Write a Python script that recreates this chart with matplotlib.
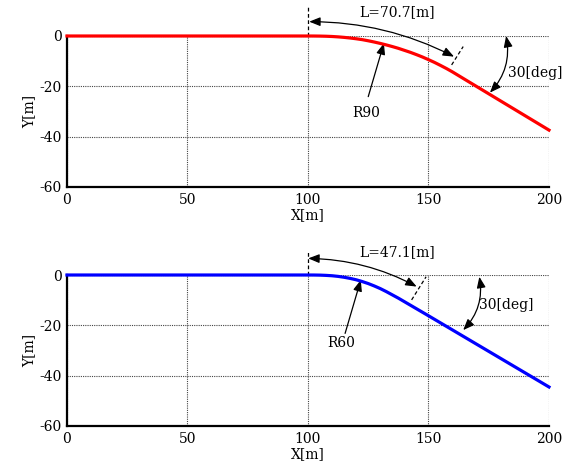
import matplotlib
matplotlib.use("Agg")
import matplotlib.pyplot as plt

plt.rcParams['font.family'] = ['DejaVu Serif']
plt.rcParams['axes.unicode_minus'] = False

# Data
x_r90 = [0, 100, 102.5, 105, 107.5, 110, 112.5, 115, 117.5, 120, 122.5, 125, 127.5,
         130, 132.5, 135, 137.5, 140, 142.5, 145, 147.5, 150, 152.5, 155, 157.5,
         160, 162.5, 165, 200]
y_r90 = [0, 0, -0.01, -0.04, -0.1, -0.2, -0.35, -0.55, -0.8, -1.1, -1.45, -1.9, -2.4,
         -2.95, -3.55, -4.2, -4.9, -5.7, -6.5, -7.4, -8.35, -9.4, -10.5, -11.7, -12.95,
         -14.3, -15.75, -17.2, -37.4]

x_r60 = [0, 100, 102.5, 105, 107.5, 110, 112.5, 115, 117.5, 120, 122.5, 125, 127.5,
         130, 132.5, 135, 137.5, 140, 142.5, 145, 147.5, 150, 200]
y_r60 = [0, 0, -0.01, -0.05, -0.15, -0.3, -0.55, -0.9, -1.35, -1.9, -2.6, -3.4, -4.35,
         -5.4, -6.6, -7.9, -9.2, -10.6, -12.0, -13.4, -14.8, -16.2, -44.5]

x_ticks = [0, 50, 100, 150, 200]
y_ticks = [-60, -40, -20, 0]
length_labels = ["L=70.7[m]", "L=47.1[m]"]
radius_labels = ["R90", "R60"]
angle_label = "30[deg]"

fig = plt.figure(figsize=(5.81, 4.73), dpi=100)
ax1 = fig.add_axes([0.1153, 0.6047, 0.8296, 0.3192])
ax2 = fig.add_axes([0.1153, 0.0994, 0.8296, 0.3192])

FS = 10

def style(ax):
    ax.set_xlim(0, 200)
    ax.set_ylim(-60, 0)
    ax.set_xticks(x_ticks)
    ax.set_yticks(y_ticks)
    ax.grid(True, linestyle=(0, (1, 1)), color='#444444', linewidth=0.8)
    for s in ['top', 'right']:
        ax.spines[s].set_visible(False)
    for s in ['left', 'bottom']:
        ax.spines[s].set_linewidth(1.6)
    ax.tick_params(length=0, labelsize=FS, pad=4)
    ax.set_xlabel("X[m]", fontsize=FS, labelpad=1)
    ax.set_ylabel("Y[m]", fontsize=FS, labelpad=2)

style(ax1)
style(ax2)

ax1.plot(x_r90, y_r90, color='red', linewidth=2.3, clip_on=False, zorder=5)
ax2.plot(x_r60, y_r60, color='blue', linewidth=2.3, clip_on=False, zorder=5)

dbl = dict(arrowstyle='<|-|>,head_length=0.55,head_width=0.22', color='black',
           linewidth=0.9, mutation_scale=12, shrinkA=0, shrinkB=0)
sgl = dict(arrowstyle='-|>,head_length=0.55,head_width=0.22', color='black',
           linewidth=0.9, mutation_scale=12, shrinkA=0, shrinkB=0)

# top annotations
ax1.plot([100, 100], [0, 11.6], color='black', linestyle=(0, (3, 2)), linewidth=0.9, clip_on=False)
ax1.plot([159.6, 164.4], [-11.5, -4.2], color='black', linestyle=(0, (3, 2)), linewidth=0.9, clip_on=False)
ax1.annotate('', xy=(160.6, -8.2), xytext=(100.5, 5.7),
             arrowprops=dict(dbl, connectionstyle='arc3,rad=-0.12'), annotation_clip=False)
ax1.text(136.8, 9.3, length_labels[0], fontsize=FS, ha='center', va='center', clip_on=False)
ax1.annotate('', xy=(175.5, -22.5), xytext=(182.2, 0),
             arrowprops=dict(dbl, connectionstyle='arc3,rad=-0.25'), annotation_clip=False)
ax1.text(194.2, -14.8, angle_label, fontsize=FS, ha='center', va='center')
ax1.annotate('', xy=(131.5, -2.9), xytext=(125.0, -24.1), arrowprops=sgl)
ax1.text(124.1, -30.5, radius_labels[0], fontsize=FS, ha='center', va='center')

# bottom annotations
ax2.plot([100, 100], [0, 10], color='black', linestyle=(0, (3, 2)), linewidth=0.9, clip_on=False)
ax2.plot([143.0, 149.0], [-9.9, -0.7], color='black', linestyle=(0, (3, 2)), linewidth=0.9, clip_on=False)
ax2.annotate('', xy=(145.1, -4.6), xytext=(100.1, 6.6),
             arrowprops=dict(dbl, connectionstyle='arc3,rad=-0.12'), annotation_clip=False)
ax2.text(136.8, 8.9, length_labels[1], fontsize=FS, ha='center', va='center', clip_on=False)
ax2.annotate('', xy=(164.4, -21.9), xytext=(171.1, -0.7),
             arrowprops=dict(dbl, connectionstyle='arc3,rad=-0.25'), annotation_clip=False)
ax2.text(182.3, -12.0, angle_label, fontsize=FS, ha='center', va='center')
ax2.annotate('', xy=(121.9, -2.0), xytext=(115.4, -23.2), arrowprops=sgl)
ax2.text(113.6, -27.1, radius_labels[1], fontsize=FS, ha='center', va='center')

fig.savefig("out.png", dpi=100)
